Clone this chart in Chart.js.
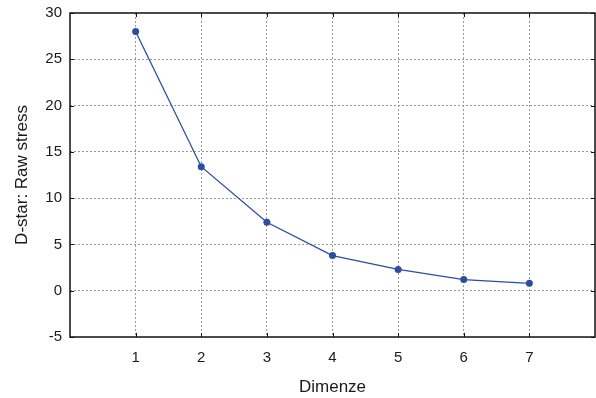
<!DOCTYPE html>
<html>
<head>
<meta charset="utf-8">
<script src="https://cdn.jsdelivr.net/npm/chart.js@4"></script>
<style>
  html, body { margin: 0; padding: 0; background: #fff; }
  #wrap { width: 596px; height: 398px; }
</style>
</head>
<body>
<div id="wrap"><canvas id="chart"></canvas></div>
<script>
const dims = [1, 2, 3, 4, 5, 6, 7];
const stress = [28.0, 13.4, 7.4, 3.8, 2.3, 1.2, 0.8];
const yTicks = [-5, 0, 5, 10, 15, 20, 25, 30];

const FONT = "'Liberation Sans', Arial, sans-serif";
const LINE = '#2b4ea3';

// box frame + inward tick marks
const frame = {
  id: 'frame',
  afterDraw(chart) {
    const { ctx, chartArea: a, scales } = chart;
    ctx.save();
    ctx.strokeStyle = '#111';
    ctx.lineWidth = 1;
    dims.forEach(v => {
      const px = Math.round(scales.x.getPixelForValue(v)) + 0.5;
      ctx.beginPath();
      ctx.moveTo(px, a.bottom); ctx.lineTo(px, a.bottom - 4);
      ctx.moveTo(px, a.top); ctx.lineTo(px, a.top + 4);
      ctx.stroke();
    });
    yTicks.forEach(v => {
      const py = Math.round(scales.y.getPixelForValue(v)) + 0.5;
      ctx.beginPath();
      ctx.moveTo(a.left, py); ctx.lineTo(a.left + 4, py);
      ctx.moveTo(a.right, py); ctx.lineTo(a.right - 4, py);
      ctx.stroke();
    });
    ctx.lineWidth = 1.5;
    ctx.strokeRect(a.left, a.top, a.right - a.left, a.bottom - a.top);
    ctx.restore();
  }
};

const ctx = document.getElementById('chart').getContext('2d');
const chart = new Chart(ctx, {
  type: 'line',
  data: {
    datasets: [
      {
        data: dims.map((d, i) => ({ x: d, y: stress[i] })),
        borderColor: LINE,
        backgroundColor: LINE,
        borderWidth: 1.3,
        pointRadius: 3.5,
        pointBorderWidth: 0,
        tension: 0,
      },
    ],
  },
  options: {
    responsive: true,
    maintainAspectRatio: false,
    animation: false,
    layout: { autoPadding: false, padding: { top: 13, right: 1, left: 0, bottom: 0 } },
    plugins: { legend: { display: false }, tooltip: { enabled: false } },
    scales: {
      x: {
        type: 'linear',
        min: 0,
        max: 8,
        afterFit(s) {
          s.height = 61;
          s.paddingLeft = 0;
          s.paddingRight = 0;
        },
        border: { display: false, dash: [2, 2] },
        grid: {
          color: c => (c.tick.value === 0 || c.tick.value === 8 ? 'transparent' : '#999'),
          lineWidth: 1,
          drawTicks: false,
        },
        ticks: {
          stepSize: 1,
          padding: 12,
          color: '#1a1a1a',
          font: { family: FONT, size: 15 },
          callback: v => (v === 0 || v === 8 ? '' : v),
        },
        title: {
          display: true,
          text: 'Dimenze',
          color: '#1a1a1a',
          font: { family: FONT, size: 17 },
          padding: { top: 13, bottom: 0 },
        },
      },
      y: {
        min: -5,
        max: 30,
        afterFit(s) {
          s.width = 70;
          s.paddingTop = 0;
          s.paddingBottom = 0;
        },
        border: { display: false, dash: [2, 2] },
        grid: {
          color: c => (c.tick.value === -5 || c.tick.value === 30 ? 'transparent' : '#999'),
          lineWidth: 1,
          drawTicks: false,
        },
        ticks: {
          stepSize: 5,
          padding: 8,
          color: '#1a1a1a',
          font: { family: FONT, size: 15 },
        },
        title: {
          display: true,
          text: 'D-star: Raw stress',
          color: '#1a1a1a',
          font: { family: FONT, size: 17 },
          padding: { top: 12, bottom: 0 },
        },
      },
    },
  },
  plugins: [frame],
});
</script>
</body>
</html>
